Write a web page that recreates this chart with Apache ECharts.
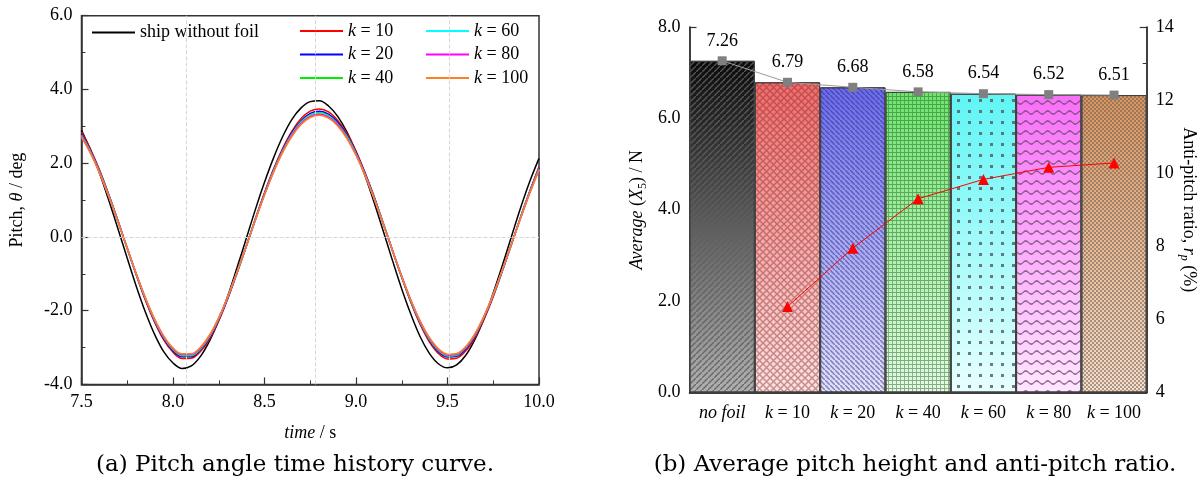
<!DOCTYPE html>
<html>
<head>
<meta charset="utf-8">
<script src="https://cdn.jsdelivr.net/npm/echarts@6/dist/echarts.min.js"></script>
<style>
html, body { margin: 0; padding: 0; background: #fff; }
#main { width: 1203px; height: 491px; }
</style>
</head>
<body>
<div id="main"></div>
<script>
// (a) pitch time history, every 0.05 s
var times = [7.50, 7.55, 7.60, 7.65, 7.70, 7.75, 7.80, 7.85, 7.90, 7.95,
    8.00, 8.05, 8.10, 8.15, 8.20, 8.25, 8.30, 8.35, 8.40, 8.45,
    8.50, 8.55, 8.60, 8.65, 8.70, 8.75, 8.80, 8.85, 8.90, 8.95,
    9.00, 9.05, 9.10, 9.15, 9.20, 9.25, 9.30, 9.35, 9.40, 9.45,
    9.50, 9.55, 9.60, 9.65, 9.70, 9.75, 9.80, 9.85, 9.90, 9.95, 10.00];
var pitchNoFoil = [2.89, 2.35, 1.71, 0.98, 0.21, -0.58, -1.35, -2.05, -2.65, -3.12,
    -3.42, -3.57, -3.50, -3.24, -2.82, -2.26, -1.59, -0.83, -0.05, 0.74,
    1.48, 2.15, 2.73, 3.19, 3.50, 3.67, 3.69, 3.55, 3.27, 2.85,
    2.30, 1.65, 0.92, 0.14, -0.65, -1.41, -2.10, -2.70, -3.15, -3.44,
    -3.55, -3.47, -3.21, -2.78, -2.21, -1.52, -0.77, 0.02, 0.80, 1.51, 2.13];
var pitchK10 = [2.84, 2.37, 1.80, 1.14, 0.43, -0.32, -1.04, -1.73, -2.32, -2.80,
    -3.13, -3.30, -3.29, -3.11, -2.77, -2.28, -1.67, -0.98, -0.26, 0.49,
    1.20, 1.85, 2.41, 2.87, 3.21, 3.41, 3.47, 3.39, 3.16, 2.81,
    2.33, 1.74, 1.08, 0.36, -0.38, -1.10, -1.78, -2.37, -2.84, -3.16,
    -3.31, -3.29, -3.09, -2.73, -2.23, -1.62, -0.92, -0.19, 0.55, 1.25, 1.90];
var pitchK20 = [2.79, 2.33, 1.77, 1.12, 0.42, -0.31, -1.03, -1.70, -2.29, -2.76,
    -3.09, -3.25, -3.25, -3.06, -2.73, -2.24, -1.65, -0.97, -0.26, 0.48,
    1.18, 1.82, 2.37, 2.83, 3.15, 3.35, 3.41, 3.33, 3.11, 2.76,
    2.29, 1.71, 1.06, 0.35, -0.38, -1.09, -1.76, -2.33, -2.79, -3.11,
    -3.26, -3.24, -3.04, -2.69, -2.19, -1.59, -0.91, -0.19, 0.54, 1.23, 1.87];
var pitchK40 = [2.76, 2.31, 1.75, 1.11, 0.41, -0.31, -1.02, -1.68, -2.27, -2.73,
    -3.06, -3.22, -3.22, -3.04, -2.70, -2.22, -1.63, -0.96, -0.26, 0.47,
    1.16, 1.80, 2.35, 2.79, 3.12, 3.31, 3.37, 3.29, 3.07, 2.73,
    2.26, 1.69, 1.04, 0.35, -0.38, -1.08, -1.74, -2.31, -2.77, -3.08,
    -3.23, -3.21, -3.01, -2.67, -2.17, -1.58, -0.90, -0.19, 0.53, 1.22, 1.85];
var pitchK60 = [2.74, 2.29, 1.74, 1.10, 0.41, -0.31, -1.01, -1.67, -2.25, -2.72,
    -3.04, -3.20, -3.20, -3.02, -2.69, -2.21, -1.62, -0.95, -0.25, 0.47,
    1.15, 1.79, 2.33, 2.78, 3.10, 3.29, 3.35, 3.27, 3.05, 2.71,
    2.25, 1.68, 1.04, 0.35, -0.37, -1.07, -1.73, -2.30, -2.75, -3.06,
    -3.21, -3.19, -2.99, -2.65, -2.16, -1.57, -0.89, -0.19, 0.53, 1.21, 1.84];
var pitchK80 = [2.73, 2.28, 1.73, 1.09, 0.41, -0.31, -1.01, -1.67, -2.25, -2.71,
    -3.03, -3.19, -3.19, -3.01, -2.68, -2.20, -1.62, -0.95, -0.26, 0.46,
    1.15, 1.77, 2.32, 2.76, 3.08, 3.27, 3.33, 3.25, 3.04, 2.69,
    2.23, 1.67, 1.03, 0.34, -0.37, -1.07, -1.72, -2.29, -2.74, -3.05,
    -3.20, -3.18, -2.99, -2.64, -2.15, -1.57, -0.89, -0.19, 0.52, 1.20, 1.83];
var pitchK100 = [2.70, 2.26, 1.71, 1.08, 0.40, -0.31, -1.01, -1.66, -2.23, -2.69,
    -3.01, -3.17, -3.17, -2.99, -2.66, -2.19, -1.61, -0.95, -0.26, 0.46,
    1.13, 1.76, 2.30, 2.73, 3.05, 3.24, 3.30, 3.22, 3.01, 2.67,
    2.21, 1.66, 1.02, 0.34, -0.38, -1.07, -1.72, -2.27, -2.72, -3.03,
    -3.18, -3.16, -2.97, -2.62, -2.14, -1.56, -0.89, -0.19, 0.52, 1.19, 1.81];
var guideTimes = [8.075, 8.776, 9.512];

// (b) average pitch and anti-pitch ratio
var categories = ['no foil', 'k = 10', 'k = 20', 'k = 40', 'k = 60', 'k = 80', 'k = 100'];
var avgPitch = [7.26, 6.79, 6.68, 6.58, 6.54, 6.52, 6.51];
var antiPitch = [null, 6.35, 7.95, 9.30, 9.83, 10.16, 10.28];

var serif = "'Liberation Serif', 'Times New Roman', serif";
var captionFont = "23px 'DejaVu Serif'";

var pitchSeries = [
    { name: 'ship without foil', values: pitchNoFoil, color: '#000000' },
    { name: 'k = 10', values: pitchK10, color: '#ff0000' },
    { name: 'k = 20', values: pitchK20, color: '#0000ff' },
    { name: 'k = 40', values: pitchK40, color: '#00ee00' },
    { name: 'k = 60', values: pitchK60, color: '#00ffff' },
    { name: 'k = 80', values: pitchK80, color: '#ff00ff' },
    { name: 'k = 100', values: pitchK100, color: '#ff8020' }
];

function grad(top, bottom) {
    return new echarts.graphic.LinearGradient(0, 0, 0, 1, [
        { offset: 0, color: top }, { offset: 1, color: bottom }
    ]);
}

// fill + hatch for each bar
var barStyles = [
    { color: grad('#0a0a0a', '#b0b0b0'), decal: { symbol: 'path://M0,5L5,0L6,0L6,1L1,6L0,6Z', symbolKeepAspect: false, dashArrayX: [6, 0], dashArrayY: [6, 0], color: 'rgba(95,95,95,0.85)' } },
    { color: grad('#f26b6b', '#fde2e2'), decal: { symbol: 'path://M0,0L1,0L7,6L7,7L6,7L0,1Z M6,0L7,0L7,1L1,7L0,7L0,6Z', symbolKeepAspect: false, dashArrayX: [7, 0], dashArrayY: [7, 0], color: 'rgba(130,40,40,0.45)' } },
    { color: grad('#6b6bf0', '#e2e2fb'), decal: { symbol: 'path://M0,0L1,0L4.5,3.5L4.5,4.5L3.5,4.5L0,1Z', symbolKeepAspect: false, dashArrayX: [4.5, 0], dashArrayY: [4.5, 0], color: 'rgba(40,40,120,0.5)' } },
    { color: grad('#6ee46e', '#e6fae6'), decal: { symbol: 'path://M0,0H4V0.9H0.9V4H0Z', symbolKeepAspect: false, dashArrayX: [4, 0], dashArrayY: [4, 0], color: 'rgba(30,100,30,0.5)' } },
    { color: grad('#5ff5f5', '#e8ffff'), decal: { symbol: 'rect', symbolKeepAspect: false, dashArrayX: [3, 8], dashArrayY: [3, 7.5], color: 'rgba(80,90,90,0.8)' } },
    { color: grad('#f86ef8', '#ffe6ff'), decal: { symbol: 'path://M0,4Q2.75,0 5.5,4Q8.25,8 11,4L11,6Q8.25,10 5.5,6Q2.75,2 0,6Z', symbolKeepAspect: false, dashArrayX: [11, 0], dashArrayY: [5, 4.5], color: 'rgba(100,70,100,0.75)' } },
    { color: grad('#d8955e', '#f6e0cc'), decal: { symbol: 'rect', symbolKeepAspect: false, dashArrayX: [[2, 2], [0, 2, 2, 0]], dashArrayY: [2, 0], color: 'rgba(110,90,80,0.55)' } }
];

var chart = echarts.init(document.getElementById('main'));

var richName = {
    n: { fontFamily: serif, fontSize: 18, color: '#000', lineHeight: 22 },
    i: { fontFamily: serif, fontSize: 18, color: '#000', fontStyle: 'italic', lineHeight: 22 },
    s: { fontFamily: serif, fontSize: 12, color: '#000', verticalAlign: 'bottom', lineHeight: 12 },
    si: { fontFamily: serif, fontSize: 12, color: '#000', fontStyle: 'italic', verticalAlign: 'bottom', lineHeight: 12 }
};
var richLabel = {
    n: { fontFamily: serif, fontSize: 18, color: '#000' },
    i: { fontFamily: serif, fontSize: 18, color: '#000', fontStyle: 'italic' }
};

function kLabel(v) {
    if (v.charAt(0) === 'k') return '{i|k}{n|' + v.slice(1) + '}';
    return '{i|' + v + '}';
}

var lineAxis = { show: true, onZero: false, lineStyle: { color: '#333', width: 1.5 } };
var inTick = { show: true, inside: true, length: 7, lineStyle: { color: '#333', width: 1.2 } };
var inMinor = { show: true, splitNumber: 2, length: 4, lineStyle: { color: '#333', width: 1 } };
var numLabel = function (dec) {
    return { color: '#000', fontFamily: serif, fontSize: 18, margin: 9,
        formatter: function (v) { return v.toFixed(dec); } };
};

var series = [];
series.push({
    type: 'line', xAxisIndex: 0, yAxisIndex: 0, data: [], silent: true, z: 1,
    markLine: {
        silent: true, symbol: 'none', label: { show: false },
        lineStyle: { type: 'dashed', color: '#d6d6d6', width: 1 },
        data: guideTimes.map(function (t) { return { xAxis: t }; }).concat([{ yAxis: 0 }])
    }
});
pitchSeries.forEach(function (s) {
    series.push({
        name: s.name, type: 'line', xAxisIndex: 0, yAxisIndex: 0,
        data: times.map(function (t, i) { return [t, s.values[i]]; }),
        smooth: 0.35, symbol: 'none', z: 2,
        lineStyle: { color: s.color, width: 1.5 }, itemStyle: { color: s.color }
    });
});
series.push({
    type: 'bar', xAxisIndex: 1, yAxisIndex: 1, barCategoryGap: '0%',
    data: avgPitch.map(function (v, i) { return { value: v, itemStyle: barStyles[i] }; }),
    itemStyle: { borderColor: '#404040', borderWidth: 1 },
    label: { show: true, position: 'top', distance: 11, fontFamily: serif, fontSize: 18, color: '#000',
        formatter: function (p) { return p.value.toFixed(2); } }
});
series.push({
    type: 'line', xAxisIndex: 1, yAxisIndex: 1, data: avgPitch, z: 3,
    symbol: 'rect', symbolSize: 9, itemStyle: { color: '#808080' },
    lineStyle: { color: '#9a9a9a', width: 1 }
});
series.push({
    type: 'line', xAxisIndex: 1, yAxisIndex: 2, data: antiPitch, z: 4,
    symbol: 'triangle', symbolSize: 11, itemStyle: { color: '#ff0000' },
    lineStyle: { color: '#ff0000', width: 1 }
});

var legendBase = {
    orient: 'vertical', padding: 0, icon: 'rect', itemWidth: 43, itemHeight: 2, itemGap: 3.5,
    selectedMode: false,
    textStyle: { fontFamily: serif, fontSize: 18, color: '#000', lineHeight: 20, rich: {
        n: { fontFamily: serif, fontSize: 18, color: '#000' },
        i: { fontFamily: serif, fontSize: 18, color: '#000', fontStyle: 'italic' } } },
    formatter: function (name) { return name.charAt(0) === 'k' ? '{i|k}{n|' + name.slice(1) + '}' : name; }
};

chart.setOption({
    animation: false,
    backgroundColor: '#fff',
    legend: [
        Object.assign({}, legendBase, { left: 92, top: 22.5, data: ['ship without foil'] }),
        Object.assign({}, legendBase, { left: 300, top: 21, data: ['k = 10', 'k = 20', 'k = 40'] }),
        Object.assign({}, legendBase, { left: 426, top: 21, data: ['k = 60', 'k = 80', 'k = 100'] })
    ],
    grid: [
        { left: 81.5, top: 15.7, width: 457.5, height: 368.7, show: true, borderColor: '#333', borderWidth: 1.5, backgroundColor: 'transparent' },
        { left: 689.5, top: 27, width: 457.2, height: 365.5 }
    ],
    xAxis: [
        { gridIndex: 0, type: 'value', min: 7.5, max: 10, interval: 0.5,
            axisLine: lineAxis, axisTick: inTick, minorTick: inMinor, splitLine: { show: false },
            axisLabel: numLabel(1),
            name: '{i|time}{n| / s}', nameLocation: 'middle', nameGap: 38,
            nameTextStyle: { rich: richName } },
        { gridIndex: 1, type: 'category', data: categories,
            axisLine: { show: true, onZero: false, lineStyle: { color: '#000', width: 1.5 } },
            axisTick: { show: false },
            axisLabel: { margin: 12, interval: 0, formatter: kLabel, rich: richLabel } }
    ],
    yAxis: [
        { gridIndex: 0, type: 'value', min: -4, max: 6, interval: 2,
            axisLine: lineAxis, axisTick: inTick, minorTick: inMinor, splitLine: { show: false },
            axisLabel: numLabel(1),
            name: '{n|Pitch, }{i|θ}{n| / deg}', nameLocation: 'middle', nameGap: 53,
            nameTextStyle: { rich: richName } },
        { gridIndex: 1, type: 'value', min: 0, max: 8, interval: 2,
            axisLine: { show: true, onZero: false, lineStyle: { color: '#000', width: 1.5 } },
            axisTick: inTick, minorTick: inMinor, splitLine: { show: false },
            axisLabel: numLabel(1),
            name: '{i|Average }{n|(}{i|X}{s|5}{n|) / N}', nameLocation: 'middle', nameGap: 41,
            nameTextStyle: { rich: richName } },
        { gridIndex: 1, type: 'value', min: 4, max: 14, interval: 2, position: 'right',
            axisLine: { show: true, onZero: false, lineStyle: { color: '#000', width: 1.5 } },
            axisTick: inTick, minorTick: inMinor, splitLine: { show: false },
            axisLabel: numLabel(0),
            name: '{n|Anti-pitch ratio, }{i|r}{si|p}{n| (%)}', nameLocation: 'middle', nameGap: 31,
            nameRotate: -90, nameTextStyle: { rich: richName } }
    ],
    graphic: [
        { type: 'text', x: 295, y: 465, silent: true,
            style: { text: '(a) Pitch angle time history curve.', font: captionFont, fill: '#000', align: 'center', verticalAlign: 'middle' } },
        { type: 'text', x: 915, y: 465, silent: true,
            style: { text: '(b) Average pitch height and anti-pitch ratio.', font: captionFont, fill: '#000', align: 'center', verticalAlign: 'middle' } }
    ],
    series: series
});
</script>
</body>
</html>
